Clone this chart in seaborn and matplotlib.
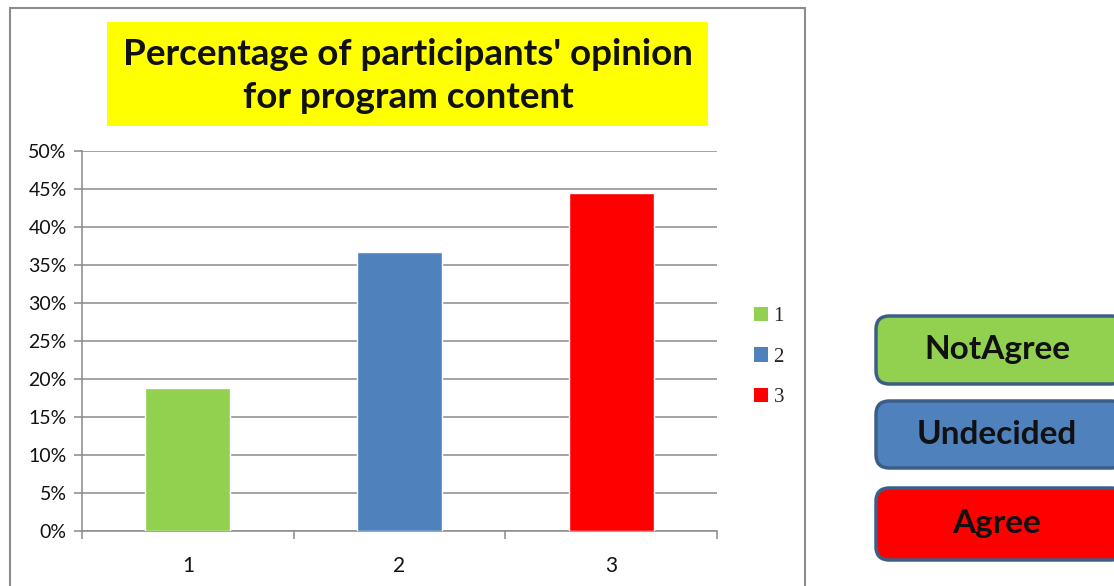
import matplotlib
matplotlib.use("Agg")
import matplotlib.pyplot as plt
from matplotlib.patches import Rectangle, FancyBboxPatch, Patch
from matplotlib.ticker import PercentFormatter
import seaborn as sns
import pandas as pd

# Survey results for program content
categories = ["1", "2", "3"]
shares = [18.8, 36.7, 44.5]
bar_colors = ["#92D050", "#4F81BD", "#FF0000"]
y_ticks = [0, 5, 10, 15, 20, 25, 30, 35, 40, 45, 50]
opinion_labels = ["NotAgree", "Undecided", "Agree"]

sns.set_theme(style="white")
plt.rcParams["font.family"] = ["Lato", "DejaVu Sans"]

W, H = 1114, 586
fig = plt.figure(figsize=(W / 100, H / 100), dpi=100)
fig.patch.set_facecolor("white")


def fx(px):
    return px / W


def fy(py):
    return 1 - py / H


ax = fig.add_axes([fx(82), fy(531), fx(717) - fx(82), fy(151) - fy(531)])

df = pd.DataFrame({"category": categories, "share": shares})
sns.barplot(data=df, x="category", y="share", hue="category",
            palette=bar_colors, width=0.4, saturation=1, legend=False, ax=ax,
            zorder=3)

ax.set_ylim(0, 50)
ax.set_xlim(-0.5, 2.5)
ax.set_yticks(y_ticks)
ax.yaxis.set_major_formatter(PercentFormatter(decimals=0))
ax.grid(axis="y", color="#8a8a8a", linewidth=1.1, zorder=0)
ax.set_axisbelow(True)
ax.set_xlabel("")
ax.set_ylabel("")
for s in ["top", "right"]:
    ax.spines[s].set_visible(False)
for s in ["left", "bottom"]:
    ax.spines[s].set_color("#8a8a8a")
    ax.spines[s].set_linewidth(1.1)

ax.tick_params(axis="y", left=True, length=6, width=1.1, color="#8a8a8a",
               labelsize=14, pad=5, labelcolor="#111111")
ax.tick_params(axis="x", bottom=False, labelsize=15, pad=12, labelcolor="#111111")
# category separator ticks below the x axis
ax.set_xticks([-0.5, 0.5, 1.5, 2.5], minor=True)
ax.tick_params(axis="x", which="minor", bottom=True, length=6, width=1.1,
               color="#8a8a8a")

# outer chart frame
fig.patches.append(Rectangle((fx(10), fy(590)), fx(805) - fx(10), fy(8) - fy(590),
                             transform=fig.transFigure, fill=False,
                             edgecolor="#8c8c8c", linewidth=1.5, zorder=0))

# yellow title panel
fig.patches.append(Rectangle((fx(107), fy(126)), fx(708) - fx(107), fy(22) - fy(126),
                             transform=fig.transFigure, facecolor="#FFFF00",
                             edgecolor="none", zorder=1))
fig.text(fx(408), fy(76), "Percentage of participants' opinion\nfor program content",
         ha="center", va="center", fontsize=26.5, fontweight="bold",
         color="#111111", linespacing=1.35, zorder=2)

# series legend
handles = [Patch(facecolor=c, edgecolor="none", label=l)
           for c, l in zip(bar_colors, categories)]
fig.legend(handles=handles, loc="center left", bbox_to_anchor=(fx(735), fy(357)),
           frameon=False, handlelength=0.7, handleheight=0.7, handletextpad=0.25,
           labelspacing=1.0, prop={"family": "Liberation Serif", "size": 15})

# opinion key boxes
box_tops = [316, 401, 488]
box_bottoms = [384, 468, 560]
for top, bot, col, lab in zip(box_tops, box_bottoms, bar_colors, opinion_labels):
    box = FancyBboxPatch((fx(876), fy(bot)), fx(1125) - fx(876), fy(top) - fy(bot),
                         boxstyle="round,pad=0,rounding_size=0.012",
                         transform=fig.transFigure, facecolor=col,
                         edgecolor="#3b5e88", linewidth=2.5, zorder=2,
                         mutation_aspect=W / H)
    fig.patches.append(box)
    fig.text(fx(997), fy((top + bot) / 2), lab, ha="center", va="center",
             fontsize=24, fontweight="bold", color="#111111", zorder=3)

fig.savefig("out.png", dpi=100)
